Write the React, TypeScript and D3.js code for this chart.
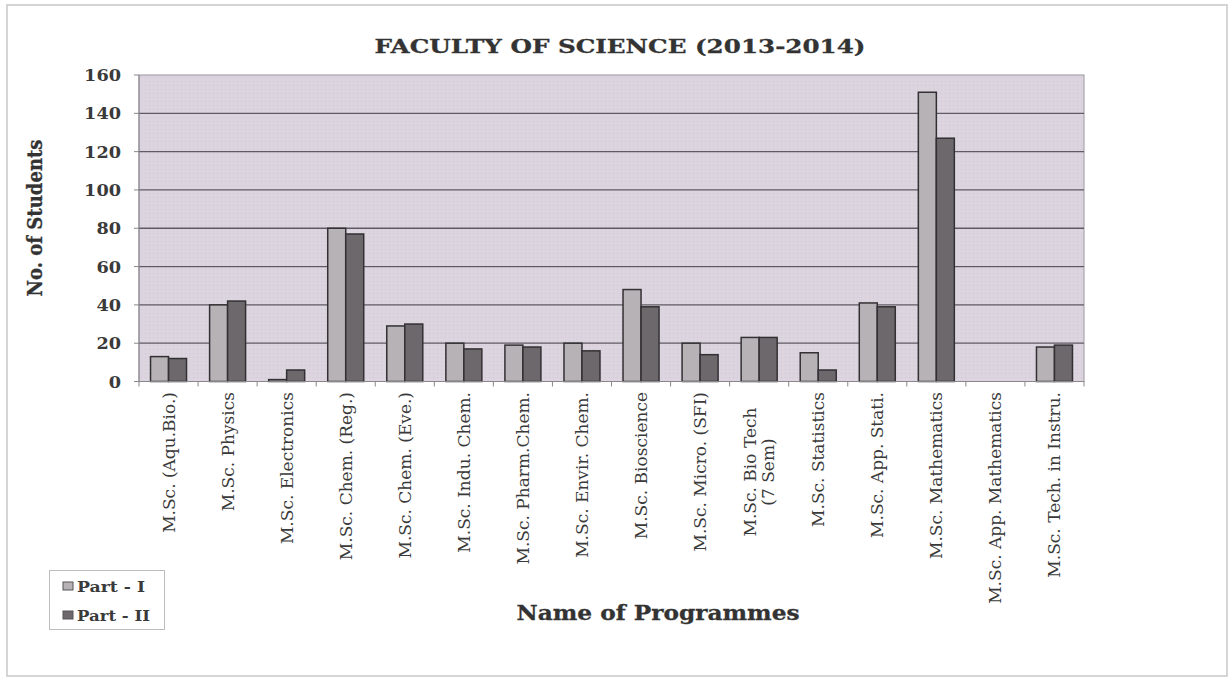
import React from "react";
import * as d3 from "d3";

const categories: string[][] = [
  ["M.Sc. (Aqu.Bio.)"],
  ["M.Sc. Physics"],
  ["M.Sc. Electronics"],
  ["M.Sc. Chem. (Reg.)"],
  ["M.Sc. Chem. (Eve.)"],
  ["M.Sc. Indu. Chem."],
  ["M.Sc. Pharm.Chem."],
  ["M.Sc. Envir. Chem."],
  ["M.Sc. Bioscience"],
  ["M.Sc. Micro. (SFI)"],
  ["M.Sc. Bio Tech", "(7 Sem)"],
  ["M.Sc. Statistics"],
  ["M.Sc. App. Stati."],
  ["M.Sc. Mathematics"],
  ["M.Sc. App. Mathematics"],
  ["M.Sc. Tech. in Instru."],
];

const partI = [13, 40, 1, 80, 29, 20, 19, 20, 48, 20, 23, 15, 41, 151, 0, 18];
const partII = [12, 42, 6, 77, 30, 17, 18, 16, 39, 14, 23, 6, 39, 127, 0, 19];

const seriesNames = ["Part - I", "Part - II"];
const yTicks = [0, 20, 40, 60, 80, 100, 120, 140, 160];

const W = 1232;
const H = 680;
const plot = { left: 139, right: 1084, top: 75, bottom: 381.5 };

const colors = ["#b7b2b6", "#6d686c"];
const serif = "'DejaVu Serif', serif";

export default function App() {
  const keys = categories.map((_, i) => String(i));
  const x = d3
    .scaleBand<string>()
    .domain(keys)
    .range([plot.left, plot.right])
    .paddingInner(0)
    .paddingOuter(0);
  const y = d3.scaleLinear().domain([0, 160]).range([plot.bottom, plot.top]);
  const bw = x.bandwidth();
  const barW = 18;
  const groupW = barW * 2;
  const inner = d3
    .scaleBand<number>()
    .domain([0, 1])
    .range([0, groupW])
    .padding(0);

  const series = [partI, partII];

  return (
    <svg
      width={W}
      height={H}
      style={{ position: "absolute", left: 0, top: 0, background: "#fff" }}
    >
      <defs>
        <pattern id="dots" width="4" height="4" patternUnits="userSpaceOnUse">
          <rect width="4" height="4" fill="#dcd5df" />
          <rect width="1" height="1" x="1" y="1" fill="#cfc8d2" />
        </pattern>
      </defs>
      {/* outer frame */}
      <rect x={7} y={5} width={1220} height={671} fill="none" stroke="#c8c8c8" strokeWidth={1.5} />

      {/* title */}
      <text
        x={620}
        y={53}
        textAnchor="middle"
        fontFamily={serif}
        fontWeight="bold"
        fontSize={18.5}
        fill="#333"
        stroke="#333"
        strokeWidth={0.3}
        textLength={491}
        lengthAdjust="spacingAndGlyphs"
      >
        FACULTY OF SCIENCE (2013-2014)
      </text>

      {/* plot area */}
      <rect
        x={plot.left}
        y={plot.top}
        width={plot.right - plot.left}
        height={plot.bottom - plot.top}
        fill="url(#dots)"
        stroke="#9a96a0"
        strokeWidth={1}
      />

      {/* gridlines */}
      {yTicks
        .filter((t) => t > 0 && t < 160)
        .map((t) => (
          <line
            key={"g" + t}
            x1={plot.left}
            x2={plot.right}
            y1={y(t)}
            y2={y(t)}
            stroke="#5f5a64"
            strokeWidth={1.3}
          />
        ))}

      {/* y axis */}
      <line x1={plot.left} x2={plot.left} y1={plot.top} y2={plot.bottom} stroke="#8a868c" strokeWidth={1} />
      {yTicks.map((t) => (
        <g key={"yt" + t}>
          <line x1={plot.left - 5} x2={plot.left} y1={y(t)} y2={y(t)} stroke="#8a868c" />
          <text
            x={121}
            y={y(t) + 6}
            textAnchor="end"
            fontFamily={serif}
            fontWeight="bold"
            fontSize={16}
            fill="#3a3a3a"
            textLength={String(t).length * 12.3}
            lengthAdjust="spacingAndGlyphs"
          >
            {t}
          </text>
        </g>
      ))}

      {/* bars */}
      {series.map((vals, si) =>
        vals.map((v, ci) => {
          const x0 = (x(String(ci)) as number) + (bw - groupW) / 2 + (inner(si) as number);
          const h = plot.bottom - y(v);
          if (v <= 0) return null;
          return (
            <rect
              key={`b${si}-${ci}`}
              x={x0}
              y={y(v)}
              width={barW}
              height={h}
              fill={colors[si]}
              stroke="#333033"
              strokeWidth={1.5}
            />
          );
        })
      )}

      {/* x axis */}
      <line x1={plot.left} x2={plot.right} y1={plot.bottom} y2={plot.bottom} stroke="#8a868c" strokeWidth={1.2} />
      {keys.concat([String(keys.length)]).map((k, i) => {
        const xx = plot.left + i * bw;
        return (
          <line key={"xt" + i} x1={xx} x2={xx} y1={plot.bottom} y2={plot.bottom + 5} stroke="#8a868c" />
        );
      })}

      {/* x labels */}
      {categories.map((lines, ci) => {
        const cx = (x(String(ci)) as number) + bw / 2;
        const n = lines.length;
        const multi = n > 1;
        const ty = multi ? 472 : 392;
        return (
          <text
            key={"xl" + ci}
            transform={`translate(${cx},${ty}) rotate(-90)`}
            textAnchor={multi ? "middle" : "end"}
            fontFamily={serif}
            fontSize={17}
            fill="#3a3a3a"
          >
            {lines.map((ln, li) => (
              <tspan key={li} x={0} y={6 + (li - (n - 1) / 2) * 18}>
                {ln}
              </tspan>
            ))}
          </text>
        );
      })}

      {/* y axis title */}
      <text
        transform="translate(42,218) rotate(-90)"
        textAnchor="middle"
        fontFamily={serif}
        fontWeight="bold"
        fontSize={20}
        fill="#333"
        stroke="#333"
        strokeWidth={0.3}
        textLength={157}
        lengthAdjust="spacingAndGlyphs"
      >
        No. of Students
      </text>

      {/* x axis title */}
      <text
        x={658}
        y={620}
        textAnchor="middle"
        fontFamily={serif}
        fontWeight="bold"
        fontSize={20}
        fill="#333"
        stroke="#333"
        strokeWidth={0.3}
        textLength={283}
        lengthAdjust="spacingAndGlyphs"
      >
        Name of Programmes
      </text>

      {/* legend */}
      <rect x={49.5} y={570.5} width={115} height={59} fill="#fff" stroke="#bdbdbd" strokeWidth={1} />
      {seriesNames.map((name, i) => (
        <g key={"lg" + i}>
          <rect
            x={63}
            y={582 + i * 29}
            width={10}
            height={8}
            fill={colors[i]}
            stroke="#555"
            strokeWidth={1}
          />
          <text
            x={77}
            y={592 + i * 29}
            fontFamily={serif}
            fontWeight="bold"
            fontSize={15}
            fill="#3a3a3a"
            textLength={i === 0 ? 68 : 73}
            lengthAdjust="spacingAndGlyphs"
          >
            {name}
          </text>
        </g>
      ))}
    </svg>
  );
}
